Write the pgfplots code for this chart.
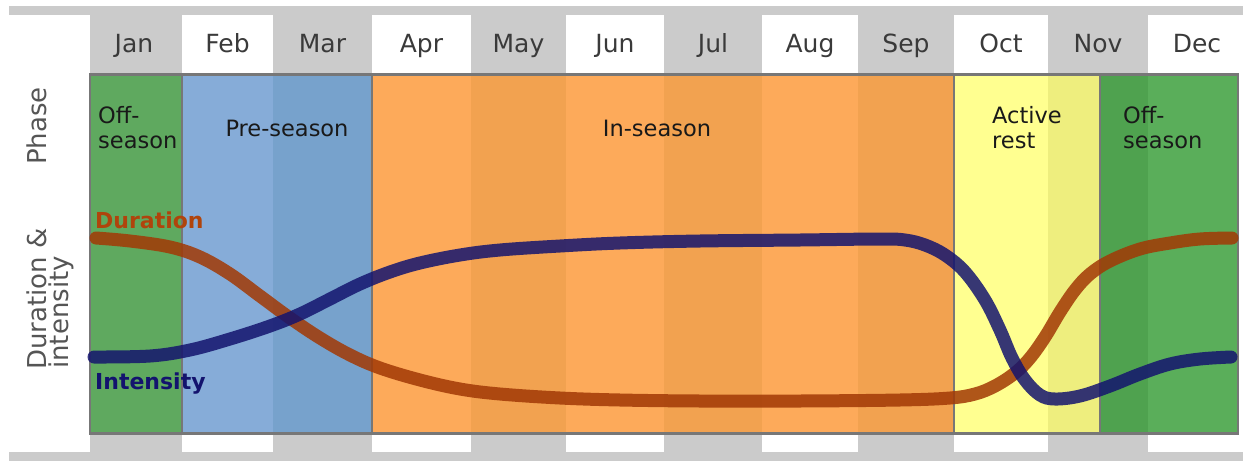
\documentclass[border=0pt]{standalone}
\usepackage{pgfplots}
\pgfplotsset{compat=1.18}
\usepackage{fontspec}
\setmainfont{DejaVu Sans}

\definecolor{hdr}{HTML}{CBCBCB}
\definecolor{frm}{HTML}{777777}
\definecolor{offA}{HTML}{5FA95F}
\definecolor{offB}{HTML}{4FA24F}
\definecolor{offC}{HTML}{5AAE5A}
\definecolor{preA}{HTML}{86ACD8}
\definecolor{preB}{HTML}{77A2CC}
\definecolor{inA}{HTML}{FDAA5A}
\definecolor{inB}{HTML}{F2A250}
\definecolor{restA}{HTML}{FFFF90}
\definecolor{restB}{HTML}{EEEE7E}
\definecolor{durc}{RGB}{162,57,5}
\definecolor{intc}{RGB}{20,20,110}
\definecolor{durlab}{HTML}{B0440C}
\definecolor{intlab}{HTML}{13136E}
\definecolor{mtxt}{HTML}{3A3A3A}
\definecolor{atxt}{HTML}{555555}

% filled rectangle in picture coordinates: x1 x2 y1 y2 colour
\newcommand{\cell}[5]{\addplot[fill=#5, draw=none] coordinates {(#1,#3) (#2,#3) (#2,#4) (#1,#4)} -- cycle;}

\begin{document}
\begin{tikzpicture}
\begin{axis}[
  width=1243pt, height=461pt, scale only axis,
  xmin=0, xmax=1243, ymin=0, ymax=461, y dir=reverse,
  hide axis, clip=false,
]
\addplot[draw=none] coordinates {(0,0) (1243,461)};

% header and footer strips
\cell{9}{1243}{6}{15}{hdr}
\cell{9}{1243}{452}{461}{hdr}
\cell{90}{182}{15}{74}{hdr}
\cell{273}{372}{15}{74}{hdr}
\cell{471}{566}{15}{74}{hdr}
\cell{664}{762}{15}{74}{hdr}
\cell{858}{954}{15}{74}{hdr}
\cell{1048}{1148}{15}{74}{hdr}
\cell{90}{182}{434}{452}{hdr}
\cell{273}{372}{434}{452}{hdr}
\cell{471}{566}{434}{452}{hdr}
\cell{664}{762}{434}{452}{hdr}
\cell{858}{954}{434}{452}{hdr}
\cell{1048}{1148}{434}{452}{hdr}

% phase bands
\cell{90}{182}{74}{434}{offA}
\cell{182}{273}{74}{434}{preA}
\cell{273}{372}{74}{434}{preB}
\cell{372}{471}{74}{434}{inA}
\cell{471}{566}{74}{434}{inB}
\cell{566}{664}{74}{434}{inA}
\cell{664}{762}{74}{434}{inB}
\cell{762}{858}{74}{434}{inA}
\cell{858}{954}{74}{434}{inB}
\cell{954}{1048}{74}{434}{restA}
\cell{1048}{1100}{74}{434}{restB}
\cell{1100}{1148}{74}{434}{offB}
\cell{1148}{1238}{74}{434}{offC}

% frame and phase dividers
\addplot[draw=frm, line width=2.6pt] coordinates {(90,74.5) (1238,74.5) (1238,433.5) (90,433.5)} -- cycle;
\addplot[draw=frm, line width=2.6pt] coordinates {(182,74.5) (182,433.5)};
\addplot[draw=frm, line width=2.6pt] coordinates {(372,74.5) (372,433.5)};
\addplot[draw=frm, line width=2.6pt] coordinates {(954,74.5) (954,433.5)};
\addplot[draw=frm, line width=2.6pt] coordinates {(1100,74.5) (1100,433.5)};

% duration
\addplot[draw=durc, opacity=0.85, line width=13pt, line cap=round, smooth, tension=0.6] coordinates {
(96,238) (130,241) (170,247) (200,257) (230,274) (260,296) (290,318) (320,338)
(350,355) (380,368) (420,380) (460,389) (500,394) (560,398) (620,400) (700,401)
(800,401) (900,400) (950,398) (975,394) (995,386) (1015,373) (1030,358)
(1045,337) (1060,312) (1075,290) (1090,274) (1110,261) (1140,249) (1170,243)
(1200,239) (1232,238)};

% intensity
\addplot[draw=intc, opacity=0.85, line width=13pt, line cap=round, smooth, tension=0.6] coordinates {
(94,357) (150,356) (190,350) (230,339) (270,326) (300,314) (330,299) (360,284)
(390,272) (420,263) (460,255) (500,250) (560,246) (620,243) (700,241) (800,240)
(880,239) (905,240) (925,245) (945,255) (965,272) (985,300) (1000,330) (1012,358)
(1025,380) (1040,395) (1055,399) (1080,396) (1110,386) (1140,374) (1170,364)
(1200,359) (1231,357)};

% month labels
\begin{scope}[font=\fontsize{25}{30}\selectfont, text=mtxt]
\node[anchor=base] at (axis cs:134,52) {Jan};
\node[anchor=base] at (axis cs:227.5,52) {Feb};
\node[anchor=base] at (axis cs:322.5,52) {Mar};
\node[anchor=base] at (axis cs:421.5,52) {Apr};
\node[anchor=base] at (axis cs:518.5,52) {May};
\node[anchor=base] at (axis cs:615,52) {Jun};
\node[anchor=base] at (axis cs:713,52) {Jul};
\node[anchor=base] at (axis cs:810,52) {Aug};
\node[anchor=base] at (axis cs:906,52) {Sep};
\node[anchor=base] at (axis cs:1001,52) {Oct};
\node[anchor=base] at (axis cs:1098,52) {Nov};
\node[anchor=base] at (axis cs:1197,52) {Dec};
\end{scope}

% phase names
\begin{scope}[font=\fontsize{22.5}{25}\selectfont, text=black!90]
\node[anchor=base west, inner sep=0pt, align=left] at (axis cs:98,148) {Off-\\season};
\node[anchor=base, inner sep=0pt] at (axis cs:287,136) {Pre-season};
\node[anchor=base, inner sep=0pt] at (axis cs:657,136) {In-season};
\node[anchor=base west, inner sep=0pt, align=left] at (axis cs:992,148) {Active\\rest};
\node[anchor=base west, inner sep=0pt, align=left] at (axis cs:1123,148) {Off-\\season};
\end{scope}

% row labels
\begin{scope}[font=\fontsize{26}{30}\selectfont, text=atxt]
\node[rotate=90, anchor=base west, inner sep=0pt] at (axis cs:46,165) {Phase};
\node[rotate=90, anchor=base west, inner sep=0pt] at (axis cs:46,370) {Duration \&};
\node[rotate=90, anchor=base west, inner sep=0pt] at (axis cs:68,369) {intensity};
\end{scope}

% curve labels
\node[anchor=base west, inner sep=0pt, font=\fontsize{22}{26}\selectfont\bfseries, text=durlab] at (axis cs:95,228) {Duration};
\node[anchor=base west, inner sep=0pt, font=\fontsize{22}{26}\selectfont\bfseries, text=intlab] at (axis cs:95,389) {Intensity};

\end{axis}
\end{tikzpicture}
\end{document}
